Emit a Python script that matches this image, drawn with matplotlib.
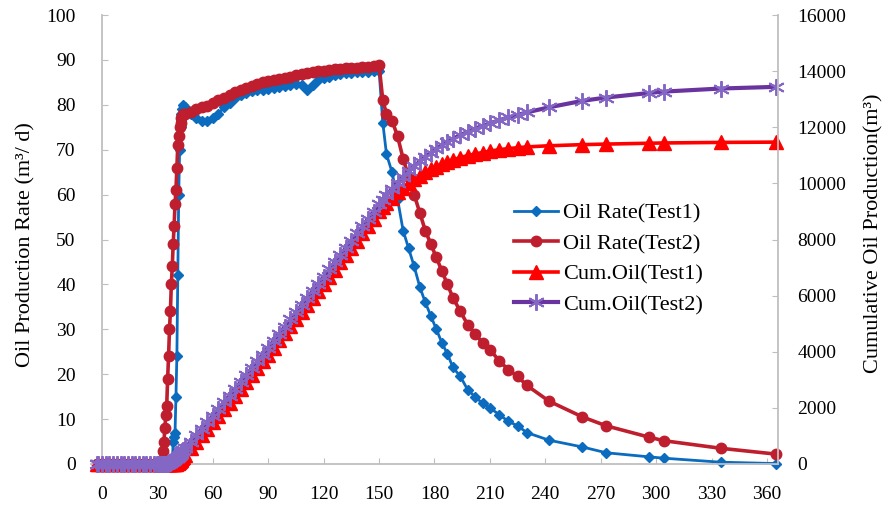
import matplotlib
matplotlib.use("Agg")
import matplotlib.pyplot as plt
from matplotlib.lines import Line2D

plt.rcParams["font.family"] = ["Liberation Serif", "DejaVu Serif"]

# time axis shared by all four series (days)
days = [
    -3, -2, 0, 2, 4, 6, 8, 10, 12, 14, 16, 18, 20, 22, 24, 26, 28, 30, 31,
    32, 32.5, 33, 33.5, 34, 34.5, 35, 35.5, 36, 36.5, 37, 37.5, 38, 38.5,
    39, 39.5, 40, 40.5, 41, 41.5, 42, 42.5, 43, 43.5, 44, 45,
    48, 51, 54, 57, 60, 63, 66, 69, 72, 75, 78, 81, 84, 87, 90, 93, 96, 99,
    102, 105, 108, 111, 114, 117, 120, 123, 126, 129, 132, 135, 138, 141,
    144, 147, 150,
    152, 154, 157, 160, 163, 166, 169, 172, 175, 178, 181, 184, 187, 190,
    194, 198, 202, 206, 210, 215, 220, 225, 230, 242, 260, 273, 296, 304,
    335, 365,
]

rate_test1 = [
    0, 0, 0, 0, 0, 0, 0, 0, 0, 0, 0, 0, 0, 0, 0, 0, 0, 0, 0,
    0, 0, 0, 0, 0, 0, 0, 0, 0, 0, 0, 0, 0, 5,
    6, 7, 15, 24, 42, 60, 70, 75, 78, 79, 80, 79.5,
    78, 77, 76.5, 76.5, 77, 78, 79.5, 80.5, 81.5, 82.2, 82.7, 83, 83.2, 83.4,
    83.6, 83.8, 84, 84.2, 84.4, 84.6, 84.5, 83.2, 84.3, 85.5, 86, 86.3, 86.6,
    86.8, 87, 87.1, 87.2, 87.3, 87.4, 87.5, 87.6,
    76, 69, 65, 59, 52, 48, 44, 39.5, 36, 33, 30, 27, 24.5, 21.5,
    19.5, 16.5, 15, 13.5, 12.5, 11, 9.5, 8.5, 7, 5.3, 3.8, 2.5, 1.6, 1.3,
    0.4, 0.1,
]

rate_test2 = [
    0, 0, 0, 0, 0, 0, 0, 0, 0, 0, 0, 0, 0, 0, 0, 0, 0, 0, 0,
    0, 1, 3, 5, 8, 11, 13, 19, 24, 30, 34, 40, 44, 49,
    53, 58, 61, 66, 71, 73, 75, 76, 77, 77.5, 78, 78,
    78.5, 79, 79.5, 79.8, 80.3, 81, 81.6, 82.2, 82.8, 83.3, 83.8, 84.2, 84.6,
    85, 85.3, 85.5, 85.8, 86, 86.3, 86.6, 86.9, 87.1, 87.3, 87.5, 87.6, 87.8,
    87.9, 88, 88.1, 88.2, 88.3, 88.4, 88.5, 88.6, 88.8,
    81, 78, 76.5, 73, 68, 64, 60, 56, 52, 49, 46, 43, 40, 37,
    34, 31, 29, 27, 25.5, 23, 21, 19.5, 17.5, 14, 10.5, 8.5, 6, 5.2,
    3.5, 2.2,
]

cum_test1 = [
    0, 0, 0, 0, 0, 0, 0, 0, 0, 0, 0, 0, 0, 0, 0, 0, 0, 0, 0,
    0, 0, 0, 0, 0, 0, 0, 0, 0, 0, 0, 0, 0, 0,
    3, 6, 10, 20, 36, 62, 95, 131, 169, 208, 248, 330,
    565, 795, 1024, 1251, 1479, 1710, 1944, 2182, 2423, 2666, 2911, 3158,
    3405, 3653, 3902, 4151, 4401, 4651, 4902, 5153, 5405, 5654, 5904, 6155,
    6410, 6666, 6923, 7181, 7440, 7699, 7958, 8218, 8478, 8739, 9000,
    9150, 9290, 9490, 9680, 9850, 10000, 10140, 10270, 10390, 10500, 10600,
    10690, 10770, 10840, 10920, 10990, 11050, 11100, 11150, 11200, 11240,
    11270, 11300, 11340, 11380, 11400, 11430, 11440, 11460, 11470,
]

cum_test2 = [
    0, 0, 0, 0, 0, 0, 0, 0, 0, 0, 0, 0, 0, 0, 0, 0, 0, 0, 0,
    0, 0, 0, 1, 2, 5, 8, 12, 20, 35, 50, 70, 90, 113,
    139, 166, 196, 228, 262, 298, 335, 373, 411, 450, 489, 566,
    795, 1025, 1256, 1489, 1722, 1958, 2195, 2434, 2676, 2918, 3162, 3407,
    3654, 3901, 4149, 4398, 4648, 4899, 5151, 5403, 5656, 5910, 6165, 6420,
    6676, 6932, 7189, 7445, 7702, 7960, 8218, 8476, 8735, 8993, 9252,
    9420, 9580, 9810, 10030, 10240, 10430, 10610, 10780, 10940, 11090, 11230,
    11360, 11480, 11590, 11720, 11840, 11950, 12050, 12140, 12250, 12350,
    12440, 12530, 12710, 12940, 13060, 13220, 13270, 13380, 13440,
]

x_ticks = list(range(0, 361, 30))
rate_ticks = list(range(0, 101, 10))
cum_ticks = list(range(0, 16001, 2000))

C_BLUE = "#0B6BBE"
C_DARKRED = "#BE1E2D"
C_RED = "#FF0000"
C_PURPLE = "#6A34A0"
C_STAR = "#8466C4"
C_AXIS = "#BFBFBF"

STYLE_T1 = dict(color=C_BLUE, lw=2.0, marker="D", ms=5.5, mec=C_BLUE, mfc=C_BLUE)
STYLE_T2 = dict(color=C_DARKRED, lw=2.6, marker="o", ms=7.5, mec=C_DARKRED,
                mfc=C_DARKRED)
STYLE_C1 = dict(color=C_RED, lw=2.6, marker="^", ms=9.5, mec=C_RED, mfc=C_RED)
STYLE_C2 = dict(color=C_PURPLE, lw=3.0, marker=(6, 2, 0), ms=12,
                mec=C_STAR, mew=1.4)

fig = plt.figure(figsize=(8.87, 5.05), dpi=100)
ax = fig.add_axes([91 / 887, 41 / 505, 687 / 887, 449 / 505])
ax2 = ax.twinx()

ax.plot(days, rate_test1, clip_on=False, **STYLE_T1)
ax.plot(days, rate_test2, clip_on=False, **STYLE_T2)
ax2.plot(days, cum_test1, clip_on=False, **STYLE_C1)
ax2.plot(days, cum_test2, clip_on=False, **STYLE_C2)

ax.set_xlim(-6, 366)
ax.set_ylim(0, 100)
ax2.set_ylim(0, 16000)
ax.set_xticks(x_ticks)
ax.set_yticks(rate_ticks)
ax2.set_yticks(cum_ticks)

for a in (ax, ax2):
    for s in a.spines.values():
        s.set_color(C_AXIS)
        s.set_linewidth(1.3)
ax.spines["left"].set_position(("data", 0))
ax.spines["top"].set_visible(False)
ax.spines["right"].set_visible(False)
ax2.spines["top"].set_visible(False)
ax2.spines["left"].set_visible(False)
ax2.spines["bottom"].set_visible(False)

ax.tick_params(axis="x", direction="in", length=4, color=C_AXIS,
               labelsize=14, pad=16)
ax.tick_params(axis="y", direction="in", length=4, color=C_AXIS,
               labelsize=14, pad=19)
ax2.tick_params(axis="y", direction="in", length=4, color=C_AXIS,
                labelsize=14, pad=14)

ax.set_ylabel("Oil Production Rate (m³/ d)", fontsize=16)
ax.yaxis.set_label_coords(-0.0815, 0.488)
ax2.set_ylabel("Cumulative Oil Production(m³)", fontsize=16)
ax2.yaxis.set_label_coords(1.126, 0.514)

handles = [
    Line2D([0], [0], **STYLE_T1),
    Line2D([0], [0], **STYLE_T2),
    Line2D([0], [0], **STYLE_C1),
    Line2D([0], [0], **STYLE_C2),
]
labels = ["Oil Rate(Test1)", "Oil Rate(Test2)", "Cum.Oil(Test1)", "Cum.Oil(Test2)"]
ax2.legend(handles, labels, loc="upper left",
           bbox_to_anchor=(514 / 887, 1 - 203 / 505),
           bbox_transform=fig.transFigure, frameon=False, fontsize=16,
           handlelength=2.0, handletextpad=0.2, labelspacing=0.45,
           borderaxespad=0, borderpad=0)

fig.savefig("out.png", dpi=100)
